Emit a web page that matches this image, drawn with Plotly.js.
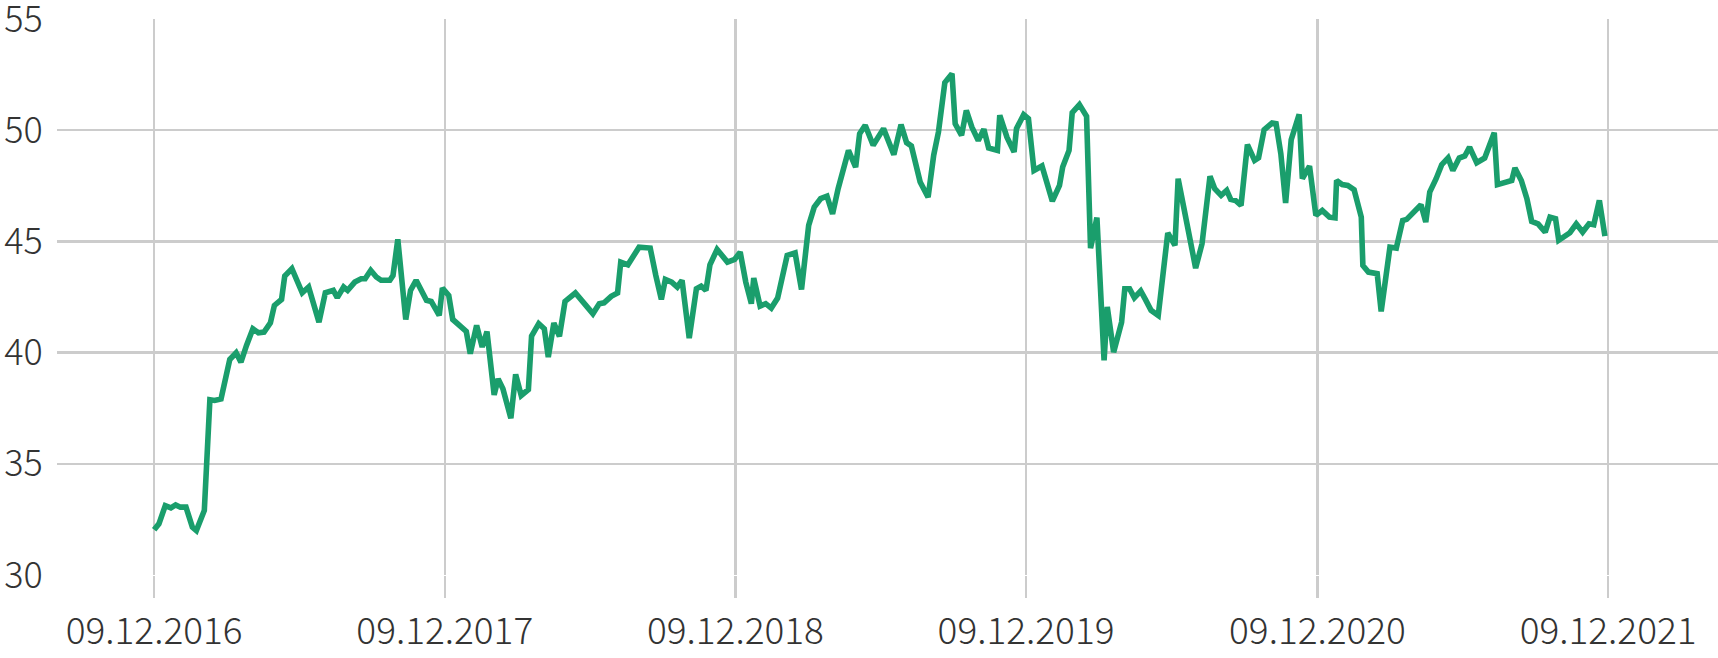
<!DOCTYPE html>
<html>
<head>
<meta charset="utf-8">
<script src="https://cdn.plot.ly/plotly-3.0.1.min.js"></script>
<style>
  html, body { margin: 0; padding: 0; background: #ffffff; }
  #chart { width: 1718px; height: 658px; }
</style>
</head>
<body>
<div id="chart"></div>
<script>
const dates = [
  "2016-12-09","2016-12-15","2016-12-23","2016-12-30","2017-01-05","2017-01-11","2017-01-18","2017-01-26","2017-01-31","2017-02-10",
  "2017-02-17","2017-02-23","2017-03-03","2017-03-10","2017-03-14","2017-03-22","2017-03-28","2017-04-04","2017-04-12","2017-04-19",
  "2017-04-26","2017-05-04","2017-05-09","2017-05-18","2017-05-22","2017-05-31","2017-06-07","2017-06-13","2017-06-21","2017-06-28",
  "2017-07-04","2017-07-12","2017-07-22","2017-07-27","2017-08-04","2017-08-09","2017-08-18","2017-08-26","2017-08-31","2017-09-07",
  "2017-09-14","2017-09-20","2017-10-01","2017-10-05","2017-10-11","2017-10-21","2017-10-27","2017-11-03","2017-11-10","2017-11-16",
  "2017-11-22","2017-12-02","2017-12-06","2017-12-14","2017-12-19","2017-12-26","2018-01-05","2018-01-10","2018-01-18","2018-01-25",
  "2018-01-31","2018-02-09","2018-02-14","2018-02-20","2018-03-02","2018-03-08","2018-03-15","2018-03-24","2018-03-28","2018-04-06",
  "2018-04-13","2018-04-18","2018-04-25","2018-05-02","2018-05-09","2018-05-22","2018-06-02","2018-06-13","2018-06-21","2018-06-27",
  "2018-07-06","2018-07-14","2018-07-18","2018-07-27","2018-08-10","2018-08-17","2018-08-24","2018-08-31","2018-09-07","2018-09-12",
  "2018-09-20","2018-09-27","2018-10-03","2018-10-12","2018-10-21","2018-10-27","2018-11-02","2018-11-07","2018-11-16","2018-11-29",
  "2018-12-08","2018-12-15","2018-12-22","2018-12-29","2019-01-01","2019-01-09","2019-01-16","2019-01-23","2019-01-31","2019-02-12",
  "2019-02-22","2019-03-02","2019-03-06","2019-03-11","2019-03-18","2019-03-26","2019-04-03","2019-04-10","2019-04-17","2019-04-23",
  "2019-04-30","2019-05-09","2019-05-14","2019-05-21","2019-05-31","2019-06-13","2019-06-26","2019-07-05","2019-07-12","2019-07-18",
  "2019-07-23","2019-07-29","2019-08-08","2019-08-15","2019-08-21","2019-08-29","2019-09-07","2019-09-11","2019-09-19","2019-09-25",
  "2019-10-02","2019-10-10","2019-10-17","2019-10-23","2019-11-03","2019-11-06","2019-11-15","2019-11-24","2019-11-27","2019-12-06",
  "2019-12-12","2019-12-19","2019-12-29","2020-01-11","2020-01-20","2020-01-24","2020-02-01","2020-02-05","2020-02-14","2020-02-23",
  "2020-02-28","2020-03-07","2020-03-16","2020-03-20","2020-03-28","2020-04-07","2020-04-11","2020-04-17","2020-04-23","2020-05-01",
  "2020-05-07","2020-05-14","2020-05-23","2020-05-29","2020-06-04","2020-06-13","2020-06-17","2020-06-24","2020-07-03","2020-07-09",
  "2020-07-17","2020-07-27","2020-08-02","2020-08-10","2020-08-17","2020-08-22","2020-08-28","2020-09-04","2020-09-12","2020-09-21",
  "2020-09-26","2020-10-03","2020-10-13","2020-10-18","2020-10-24","2020-10-30","2020-11-06","2020-11-16","2020-11-20","2020-11-29",
  "2020-12-07","2020-12-15","2020-12-24","2020-12-31","2021-01-02","2021-01-09","2021-01-16","2021-01-24","2021-02-02","2021-02-04",
  "2021-02-11","2021-02-22","2021-02-27","2021-03-05","2021-03-10","2021-03-18","2021-03-26","2021-03-31","2021-04-10","2021-04-18",
  "2021-04-24","2021-04-29","2021-05-07","2021-05-14","2021-05-22","2021-05-28","2021-06-05","2021-06-12","2021-06-18","2021-06-27",
  "2021-07-07","2021-07-19","2021-07-23","2021-08-02","2021-08-10","2021-08-14","2021-08-22","2021-08-29","2021-09-04","2021-09-12",
  "2021-09-21","2021-09-27","2021-10-04","2021-10-08","2021-10-15","2021-10-22","2021-10-30","2021-11-07","2021-11-15","2021-11-21",
  "2021-11-28","2021-12-05"
];

const values = [
  32.03,32.30,33.12,33.02,33.15,33.05,33.05,32.15,32.00,32.90,
  37.88,37.85,37.92,39.20,39.69,39.99,39.57,40.32,41.07,40.89,
  40.92,41.34,42.12,42.39,43.44,43.77,43.25,42.69,42.95,42.12,
  41.37,42.69,42.80,42.47,42.95,42.80,43.17,43.32,43.32,43.70,
  43.40,43.25,43.25,43.47,45.09,41.49,42.80,43.25,42.80,42.35,
  42.30,41.67,42.90,42.57,41.49,41.30,40.95,39.95,41.22,40.25,
  40.95,38.10,38.82,38.37,37.05,39.02,38.07,38.34,40.74,41.30,
  41.07,39.80,41.33,40.73,42.30,42.68,42.20,41.75,42.20,42.24,
  42.53,42.68,44.07,43.95,44.74,44.74,44.70,43.47,42.39,43.29,
  43.17,42.95,43.25,40.65,42.87,42.99,42.80,43.95,44.64,44.07,
  44.19,44.52,43.17,42.20,43.35,42.09,42.20,42.00,42.45,44.37,
  44.48,42.84,44.22,45.72,46.54,46.92,47.03,46.24,47.37,48.27,
  49.09,48.34,49.84,50.22,49.32,50.07,48.90,50.25,49.44,49.29,
  48.57,47.67,46.99,48.87,49.92,52.14,52.54,50.29,49.77,50.89,
  50.14,49.54,50.04,49.20,49.09,50.67,49.69,49.02,50.07,50.70,
  50.52,48.19,48.39,46.81,47.52,48.34,49.09,50.79,51.15,50.62,
  44.70,46.07,39.65,42.05,40.02,41.37,42.87,42.87,42.47,42.77,
  42.38,41.90,41.67,43.40,45.38,44.82,47.82,46.54,45.05,43.80,
  44.89,47.93,47.37,47.07,47.29,46.89,46.84,46.62,49.35,48.64,
  48.76,50.02,50.32,50.29,48.94,46.73,49.57,50.71,47.82,48.38,
  46.17,46.39,46.09,46.06,47.74,47.56,47.52,47.32,46.09,43.92,
  43.62,43.55,41.85,43.62,44.74,44.70,45.94,45.99,46.35,46.65,
  45.87,47.22,47.82,48.45,48.75,48.19,48.75,48.84,49.24,48.54,
  48.75,49.89,47.55,47.67,47.74,48.30,47.74,46.92,45.90,45.79,
  45.42,46.09,46.02,45.05,45.20,45.39,45.79,45.42,45.79,45.75,
  46.84,45.24
];

const tickDates = ["2016-12-09","2017-12-09","2018-12-09","2019-12-09","2020-12-09","2021-12-09"];
const tickLabels = ["09.12.2016","09.12.2017","09.12.2018","09.12.2019","09.12.2020","09.12.2021"];
const yTicks = [30, 35, 40, 45, 50, 55];

const trace = {
  x: dates,
  y: values,
  type: "scatter",
  mode: "lines",
  line: { color: "#1a9e6c", width: 5.6, shape: "linear" },
  hoverinfo: "x+y"
};

const fontFam = "'Noto Sans CJK SC Light', 'Noto Sans CJK SC', 'Noto Sans', sans-serif";

const layout = {
  width: 1718,
  height: 658,
  margin: { l: 57, r: 0, t: 18.7, b: 83.4, pad: 0 },
  paper_bgcolor: "#ffffff",
  plot_bgcolor: "#ffffff",
  showlegend: false,
  xaxis: {
    type: "date",
    range: ["2016-08-09", "2022-04-26"],
    tickmode: "array",
    tickvals: tickDates,
    ticktext: tickLabels,
    showgrid: true,
    gridcolor: "#cccccc",
    gridwidth: 2.5,
    zeroline: false,
    showline: false,
    ticks: "outside",
    ticklen: 22,
    tickwidth: 2.5,
    tickcolor: "#cccccc",
    ticklabelstandoff: 2,
    ticklabeloverflow: "allow",
    tickfont: { family: fontFam, size: 37, color: "#333333", weight: 300 },
    fixedrange: true
  },
  yaxis: {
    range: [30, 55],
    tickmode: "array",
    tickvals: yTicks,
    ticktext: yTicks.map(String),
    showgrid: true,
    gridcolor: "#cccccc",
    gridwidth: 2.5,
    zeroline: false,
    showline: false,
    ticks: "outside",
    ticklen: 6,
    tickcolor: "rgba(0,0,0,0)",
    ticklabeloverflow: "allow",
    tickfont: { family: fontFam, size: 36, color: "#333333", weight: 300 },
    fixedrange: true
  }
};

Plotly.newPlot("chart", [trace], layout, { displayModeBar: false, staticPlot: true });
</script>
</body>
</html>
